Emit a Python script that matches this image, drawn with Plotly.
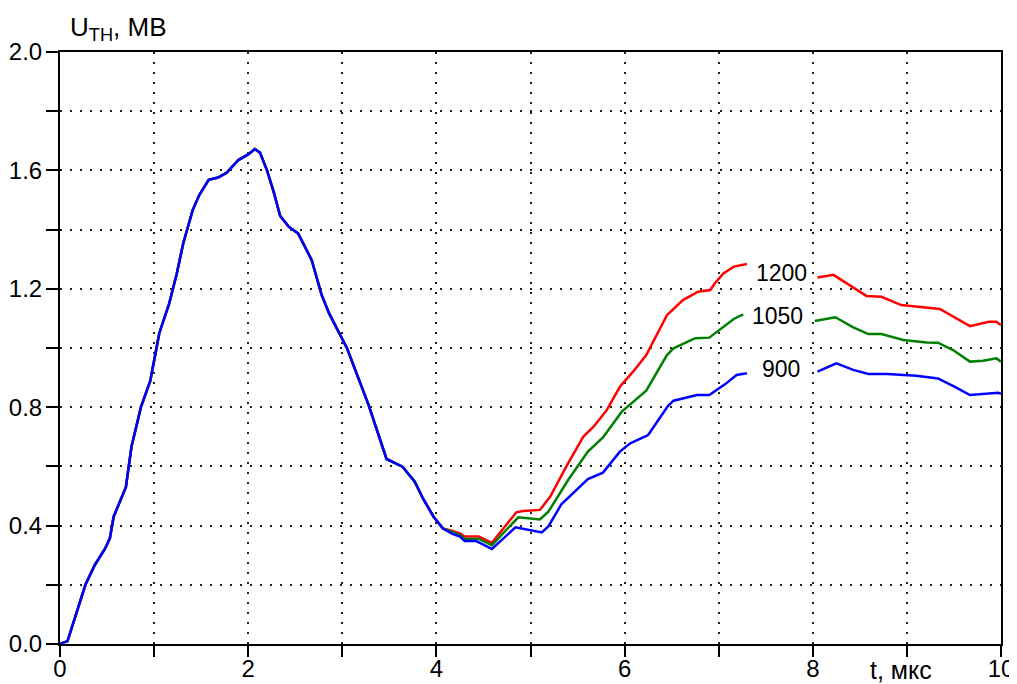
import plotly.graph_objects as go

# Common part of the three curves (t in microseconds, U in MV)
t_common = [0.0, 0.08, 0.27, 0.34, 0.37, 0.48, 0.53, 0.57, 0.70, 0.76, 0.86, 0.96, 1.055,
            1.16, 1.24, 1.31, 1.41, 1.48, 1.58, 1.68, 1.77, 1.895, 2.0, 2.07, 2.125, 2.2,
            2.27, 2.34, 2.43, 2.53, 2.675, 2.78, 2.86, 3.05, 3.28, 3.47, 3.64, 3.77, 3.86,
            3.97, 4.07]
u_common = [0.0, 0.01, 0.20, 0.25, 0.267, 0.323, 0.357, 0.43, 0.53, 0.667, 0.80, 0.89, 1.05,
            1.15, 1.25, 1.354, 1.466, 1.517, 1.568, 1.576, 1.592, 1.635, 1.654, 1.672, 1.66, 1.60,
            1.528, 1.446, 1.41, 1.387, 1.297, 1.18, 1.117, 0.999, 0.807, 0.625, 0.599, 0.548, 0.49,
            0.43, 0.39]

# Tails (None = break where the label sits)
t_1200 = [4.17, 4.25, 4.30, 4.45, 4.59, 4.85, 4.92, 5.10, 5.21, 5.38, 5.56, 5.67, 5.81, 5.95,
          6.09, 6.23, 6.45, 6.62, 6.78, 6.91, 6.96, 7.05, 7.16, 7.30, None,
          8.05, 8.22, 8.57, 8.73, 8.94, 9.35, 9.67, 9.87, 9.95, 10.0]
u_1200 = [0.382, 0.374, 0.363, 0.363, 0.342, 0.445, 0.449, 0.453, 0.498, 0.599, 0.70, 0.734, 0.79, 0.869,
          0.92, 0.976, 1.111, 1.162, 1.19, 1.196, 1.219, 1.252, 1.275, 1.284, None,
          1.238, 1.247, 1.176, 1.173, 1.145, 1.132, 1.074, 1.089, 1.089, 1.078]

t_1050 = [4.17, 4.25, 4.30, 4.45, 4.59, 4.87, 5.10, 5.19, 5.40, 5.61, 5.77, 5.97, 6.23, 6.45,
          6.52, 6.75, 6.90, 7.07, 7.16, 7.26, None,
          8.02, 8.24, 8.43, 8.59, 8.73, 8.96, 9.21, 9.33, 9.49, 9.67, 9.81, 9.95, 10.0]
u_1050 = [0.378, 0.368, 0.355, 0.355, 0.334, 0.428, 0.421, 0.447, 0.554, 0.65, 0.698, 0.785, 0.856, 0.976,
          0.999, 1.033, 1.035, 1.078, 1.098, 1.114, None,
          1.091, 1.104, 1.07, 1.047, 1.047, 1.027, 1.019, 1.018, 0.993, 0.954, 0.957, 0.965, 0.954]

t_900 = [4.17, 4.25, 4.30, 4.42, 4.59, 4.84, 5.12, 5.19, 5.33, 5.61, 5.77, 5.95, 6.06, 6.25,
         6.46, 6.52, 6.77, 6.90, 7.07, 7.19, 7.30, None,
         8.05, 8.25, 8.43, 8.59, 8.79, 9.10, 9.33, 9.51, 9.67, 9.85, 9.97, 10.0]
u_900 = [0.372, 0.363, 0.348, 0.348, 0.321, 0.394, 0.377, 0.397, 0.473, 0.557, 0.579, 0.65, 0.678, 0.706,
         0.804, 0.822, 0.841, 0.841, 0.878, 0.909, 0.915, None,
         0.92, 0.948, 0.926, 0.912, 0.912, 0.906, 0.897, 0.869, 0.841, 0.847, 0.849, 0.845]

series_names = ["1200", "1050", "900"]
series_colors = ["#ff0000", "#008000", "#0000ff"]
label_t = [7.67, 7.63, 7.66]
label_u = [1.255, 1.108, 0.93]

x_ticks = [0, 2, 4, 6, 8, 10]
y_ticks = [0.0, 0.4, 0.8, 1.2, 1.6, 2.0]

tails = [(t_1200, u_1200), (t_1050, u_1050), (t_900, u_900)]

FONT = "Arial, Liberation Sans, sans-serif"
fig = go.Figure()
for name, color, (tt, uu) in zip(series_names, series_colors, tails):
    fig.add_trace(go.Scatter(x=t_common + tt, y=u_common + uu, mode="lines",
                             line=dict(color=color, width=2.5), name=name,
                             connectgaps=False, showlegend=False))

for name, lt, lu in zip(series_names, label_t, label_u):
    fig.add_annotation(x=lt, y=lu, xref="x", yref="y", text=name, showarrow=False,
                       font=dict(family=FONT, size=23, color="black"))

fig.add_annotation(x=0.008, y=1.0405, xref="paper", yref="paper",
                   text="U<sub>TH</sub>, МВ", showarrow=False, xanchor="left", yanchor="middle",
                   font=dict(family=FONT, size=26, color="black"))
fig.add_annotation(x=8.94, y=-0.044, xref="x", yref="paper", text="t, мкс",
                   showarrow=False, xanchor="center", yanchor="middle",
                   font=dict(family=FONT, size=25, color="black"))

grid = dict(gridcolor="#222", gridwidth=2, griddash="2px,8px")
fig.update_xaxes(range=[0, 10], tickmode="array", tickvals=x_ticks,
                 ticktext=[str(v) for v in x_ticks], automargin=False,
                 ticks="outside", ticklen=11, tickwidth=2, tickcolor="black",
                 ticklabelstandoff=-9,
                 showline=True, linewidth=2, linecolor="black", mirror=True,
                 showgrid=True, zeroline=False,
                 tickfont=dict(family=FONT, size=24, color="black"),
                 minor=dict(dtick=1, tick0=0, ticks="outside", ticklen=11, tickwidth=2,
                            tickcolor="black", showgrid=True, **grid),
                 **grid)
fig.update_yaxes(range=[0, 2], tickmode="array", tickvals=y_ticks,
                 ticktext=["%.1f" % v for v in y_ticks], automargin=False,
                 ticks="outside", ticklen=12, tickwidth=2, tickcolor="black",
                 ticklabelstandoff=-1,
                 showline=True, linewidth=2, linecolor="black", mirror=True,
                 showgrid=True, zeroline=False,
                 tickfont=dict(family=FONT, size=24, color="black"),
                 minor=dict(dtick=0.2, tick0=0, ticks="outside", ticklen=12, tickwidth=2,
                            tickcolor="black", showgrid=True, **grid),
                 **grid)
# page body has an 8px margin, so the figure is sized/margined to land the plot where the reference has it
fig.update_layout(width=1009, height=676, paper_bgcolor="white", plot_bgcolor="white",
                  margin=dict(l=52, r=16, t=44, b=40, autoexpand=False), showlegend=False)
fig.write_html("out.html")
